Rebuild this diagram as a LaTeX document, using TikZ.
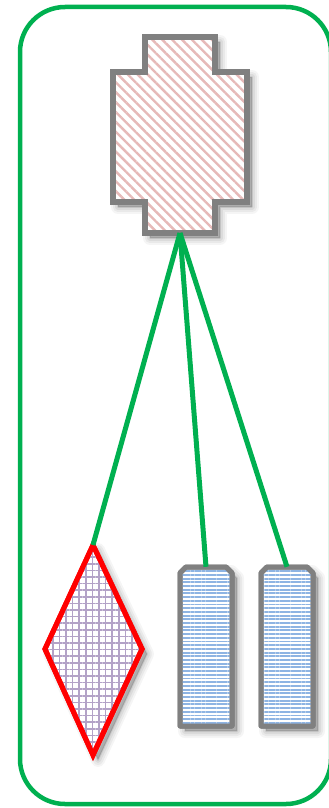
\documentclass[tikz,border=0pt]{standalone}
\usetikzlibrary{patterns.meta}
\definecolor{edgegreen}{HTML}{00B050}
\definecolor{stripepink}{HTML}{E6B9B8}
\definecolor{gridpurple}{HTML}{B3A2C7}
\definecolor{lineblue}{HTML}{8EB4E3}
\definecolor{bordergray}{HTML}{808080}
\tikzset{
  frame/.style={draw=edgegreen,line width=4.5pt,rounded corners=45pt},
  conn/.style={draw=edgegreen,line width=5pt},
  crossp/.style={insert path={(145,37) -- (215,37) -- (215,72) -- (247,72) -- (247,202) -- (215,202)
    -- (215,233) -- (145,233) -- (145,202) -- (113,202) -- (113,72) -- (145,72) -- cycle}},
  diamp/.style={insert path={(93,545) -- (142,649) -- (93,755) -- (45,649) -- cycle}},
  boxp/.style 2 args={insert path={({#1-26},{#2+79.5}) -- ({#1-26},{#2-73.5}) -- ({#1-20},{#2-79.5})
    -- ({#1+20},{#2-79.5}) -- ({#1+26},{#2-73.5}) -- ({#1+26},{#2+79.5}) -- cycle}},
  shadowlayer/.style={shift={(5,5)},fill=black,draw=black,line join=round},
  crossbox/.style={fill=white,draw=bordergray,line width=5.5pt,
    postaction={pattern={Lines[angle=-45,distance=7pt,line width=2.4pt]},pattern color=stripepink},
    postaction={draw=bordergray,line width=5.5pt}},
  diamondbox/.style={fill=white,draw=red,line width=5pt,line join=miter,
    postaction={pattern={Hatch[angle=0,distance=6.6pt,line width=1.7pt]},pattern color=gridpurple},
    postaction={draw=red,line width=5pt}},
  bluebox/.style={fill=white,draw=bordergray,line width=5pt,line join=round,
    postaction={pattern={Lines[angle=0,distance=3.7pt,line width=1.9pt]},pattern color=lineblue},
    postaction={draw=bordergray,line width=5pt}},
  slot/.style={inner sep=0pt,minimum width=52pt,minimum height=159pt}
}
\begin{document}
\begin{tikzpicture}[x=1pt,y=-1pt]
\useasboundingbox (0,0) rectangle (329,808);
\clip (0,0) rectangle (329,808);
\path[frame] (20,7) rectangle (331,804);
% soft shadows
\foreach \w/\o in {14/0.04,10/0.05,6/0.06,2/0.08}{
  \path[shadowlayer,line width=\w pt,opacity=\o,crossp];
  \path[shadowlayer,line width=\w pt,opacity=\o,diamp];
  \path[shadowlayer,line width=\w pt,opacity=\o,boxp={206}{646.5}];
  \path[shadowlayer,line width=\w pt,opacity=\o,boxp={287}{646.5}];
}
% cross
\path[crossbox,crossp];
\coordinate (crossbot) at (180,233);
% diamond
\path[diamondbox,diamp];
\coordinate (dtop) at (93,545);
% blue boxes
\path[bluebox,boxp={206}{646.5}];
\path[bluebox,boxp={287}{646.5}];
\node[slot] (r1) at (206,646.5) {};
\node[slot] (r2) at (287,646.5) {};
% connectors
\draw[conn] (crossbot) -- (dtop);
\draw[conn] (crossbot) -- (r1.north);
\draw[conn] (crossbot) -- (r2.north);
\end{tikzpicture}
\end{document}
